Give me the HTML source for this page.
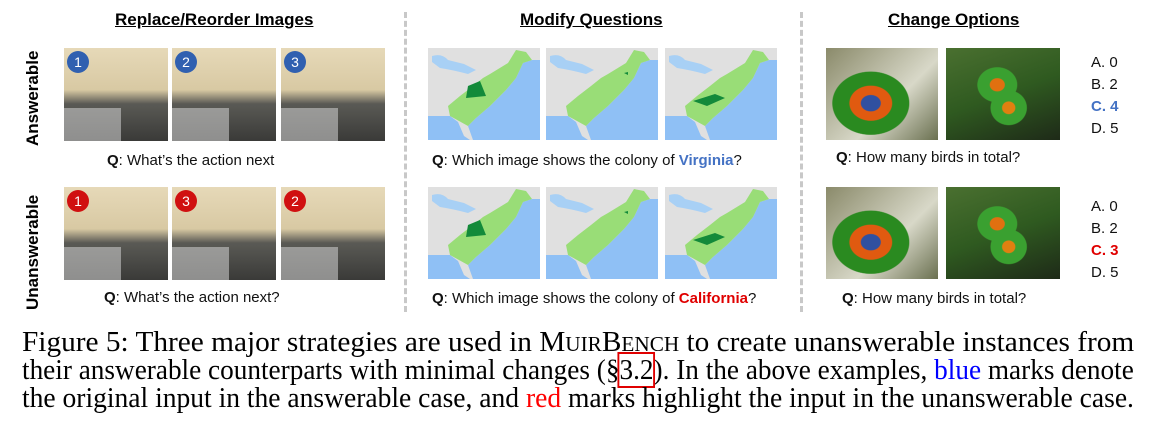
<!DOCTYPE html>
<html><head><meta charset="utf-8"><style>
body{margin:0;width:1150px;height:426px;background:#fff;position:relative;overflow:hidden;font-family:"Liberation Sans",sans-serif}
.hd{position:absolute;font-weight:bold;font-size:17px;text-decoration:underline;color:#000;white-space:nowrap}
.side{position:absolute;font-weight:bold;font-size:17px;transform:rotate(-90deg);transform-origin:left top;white-space:nowrap}
.img{position:absolute;overflow:hidden}
.kit{background:linear-gradient(180deg,#e6d9b8 0%,#d8c9a3 45%,#5a5a55 60%,#3a3a38 100%)}
.kit::after{content:"";position:absolute;left:0;bottom:0;width:55%;height:35%;background:#c8c8c8;opacity:.6}
.num{position:absolute;left:3px;top:3px;width:22px;height:22px;border-radius:50%;color:#fff;font-size:14px;text-align:center;line-height:22px}
.b{background:#3060b0}.r{background:#d01010}
.q{position:absolute;font-size:15px;white-space:nowrap;color:#111}
.opt{position:absolute;font-size:15px;line-height:22px;color:#111}
.sep{position:absolute;width:0;border-left:3px dashed #c8c8c8}
.bird1{background:radial-gradient(ellipse at 40% 60%,#3050a0 0 10%,#e05a10 11% 22%,#2a8a20 23% 40%,transparent 41%),linear-gradient(135deg,#8a8a6a,#d8d8c8 60%,#6a7050)}
.bird2{background:radial-gradient(ellipse at 45% 40%,#e07010 0 8%,#3aa030 9% 22%,transparent 23%),radial-gradient(ellipse at 55% 65%,#e08010 0 7%,#3aa030 8% 20%,transparent 21%),linear-gradient(160deg,#4a7030,#2f5a20 50%,#1e2a18)}
.cap{position:absolute;left:22px;font-family:"Liberation Serif",serif;font-size:29px;line-height:30px;white-space:nowrap;transform-origin:left top;color:#000}
</style></head><body>
<div class="hd" style="left:115px;top:10px">Replace/Reorder Images</div>
<div class="hd" style="left:520px;top:10px">Modify Questions</div>
<div class="hd" style="left:888px;top:10px">Change Options</div>
<div class="side" style="left:23px;top:146px">Answerable</div>
<div class="side" style="left:23px;top:310px">Unanswerable</div>
<div class="sep" style="left:404px;top:12px;height:300px"></div>
<div class="sep" style="left:800px;top:12px;height:300px"></div>
<div id="figs"></div>
<div class="q" style="left:107px;top:152px"><b>Q</b>: What’s the action next</div>
<div class="q" style="left:104px;top:289px"><b>Q</b>: What’s the action next?</div>
<div class="q" style="left:432px;top:152px"><b>Q</b>: Which image shows the colony of <b style="color:#4472c4">Virginia</b>?</div>
<div class="q" style="left:432px;top:290px"><b>Q</b>: Which image shows the colony of <b style="color:#e00000">California</b>?</div>
<div class="q" style="left:836px;top:149px"><b>Q</b>: How many birds in total?</div>
<div class="q" style="left:842px;top:290px"><b>Q</b>: How many birds in total?</div>
<div class="opt" style="left:1091px;top:52px">A. 0<br>B. 2<br><b style="color:#4472c4">C. 4</b><br>D. 5</div>
<div class="opt" style="left:1091px;top:196px">A. 0<br>B. 2<br><b style="color:#e00000">C. 3</b><br>D. 5</div>
<div class="cap" style="top:327px">Figure 5: Three major strategies are used in M<span style="font-size:21px">UIR</span>B<span style="font-size:21px">ENCH</span> to create unanswerable instances from</div>
<div class="cap" style="top:355px">their answerable counterparts with minimal changes (§<span style="outline:2px solid #e00000">3.2</span>). In the above examples, <span style="color:#0000ff">blue</span> marks denote</div>
<div class="cap" style="top:383px">the original input in the answerable case, and <span style="color:#ff0000">red</span> marks highlight the input in the unanswerable case.</div>
<script>
const figs=document.getElementById('figs');
const kx=[64,172,281],rows=[48,187];
const nums=[[1,2,3],[1,3,2]];
rows.forEach((y,ri)=>kx.forEach((x,i)=>{
 const d=document.createElement('div');d.className='img kit';
 
 
 d.style.cssText=`left:${x}px;top:${y}px;width:104px;height:93px`;
 d.innerHTML=`<div class="num ${ri?'r':'b'}">${nums[ri][i]}</div>`;figs.appendChild(d);}));
const mx=[428,546,665];
const hlA=["M40 38 L52 33 L58 48 L38 50Z","M78 25 L82 24 L82 27Z","M28 53 L50 46 L60 50 L42 58Z"];
rows.forEach(y=>mx.forEach((x,i)=>{
 const s=document.createElementNS('http://www.w3.org/2000/svg','svg');
 
 
 s.setAttribute('class','img');s.setAttribute('viewBox','0 0 112 92');s.setAttribute('preserveAspectRatio','none');
 s.style.cssText=`left:${x}px;top:${y}px;width:112px;height:92px;background:#e0e0e0`;
 s.innerHTML=`<path d="M0 68 L22 68 L30 74 L36 88 L42 92 L0 92Z" fill="#8fc0f5"/><path d="M45 92 L40 78 L48 70 L62 58 L78 42 L88 30 L95 15 L104 12 L112 12 L112 92Z" fill="#8fc0f5"/><path d="M4 8 Q14 5 20 12 L36 16 L48 22 L40 26 Q25 22 12 20 L4 14Z" fill="#a8d0f5"/><path d="M62 26 L80 15 L88 2 L98 4 L104 12 L95 15 L88 30 L78 42 L62 58 L48 70 L40 78 L22 68 L20 58 L32 48 L45 38 L55 30Z" fill="#99dd77"/><path d="${hlA[i]}" fill="#138a3a"/>`;
 figs.appendChild(s);}));
const bx=[[826,'bird1',112],[946,'bird2',114]];
rows.forEach(y=>bx.forEach(([x,c,w])=>{
 const d=document.createElement('div');d.className='img '+c;
 
 
 d.style.cssText=`left:${x}px;top:${y}px;width:${w}px;height:92px`;figs.appendChild(d);}));
document.querySelectorAll('.cap').forEach(c=>{c.style.transform=`scaleX(${1112/c.scrollWidth})`;});
</script>
</body></html>
